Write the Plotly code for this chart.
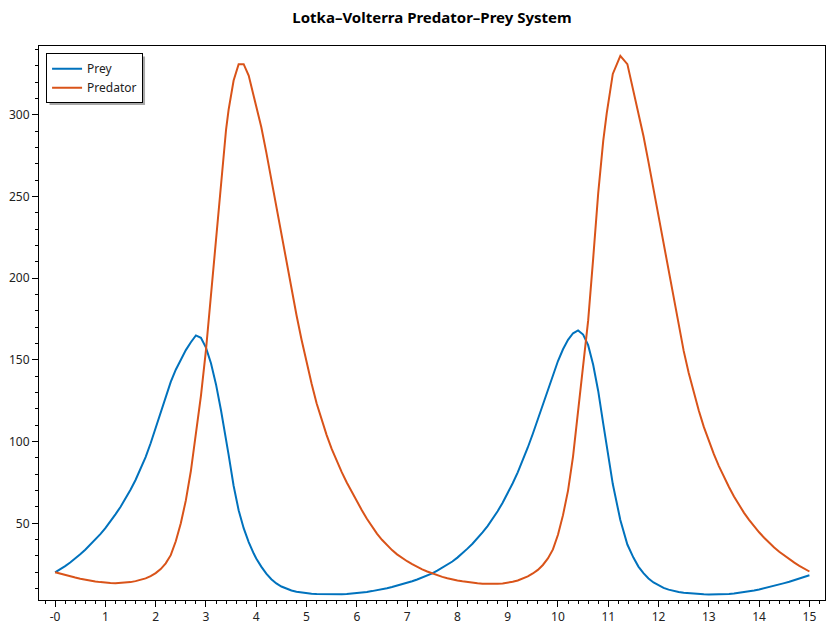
import plotly.graph_objects as go

# time samples (the solver's steps are a bit uneven around the predator peaks)
t = [0.0, 0.1, 0.2, 0.3, 0.4, 0.5, 0.6, 0.7, 0.8, 0.9,
     1.0, 1.1, 1.2, 1.3, 1.4, 1.5, 1.6, 1.7, 1.8, 1.9,
     2.0, 2.1, 2.2, 2.3, 2.4, 2.5, 2.6, 2.7, 2.8, 2.9,
     3.0, 3.1, 3.2, 3.3, 3.4, 3.45, 3.55, 3.65, 3.75, 3.85, 3.95,
     4.0, 4.1, 4.2, 4.3, 4.4, 4.5, 4.6, 4.7, 4.8, 4.9,
     5.0, 5.1, 5.2, 5.3, 5.4, 5.5, 5.6, 5.7, 5.8, 5.9,
     6.0, 6.1, 6.2, 6.3, 6.4, 6.5, 6.6, 6.7, 6.8, 6.9,
     7.0, 7.1, 7.2, 7.3, 7.4, 7.5, 7.6, 7.7, 7.8, 7.9,
     8.0, 8.1, 8.2, 8.3, 8.4, 8.5, 8.6, 8.7, 8.8, 8.9,
     9.0, 9.1, 9.2, 9.3, 9.4, 9.5, 9.6, 9.7, 9.8, 9.9,
     10.0, 10.1, 10.2, 10.3, 10.4, 10.5, 10.6, 10.7, 10.8, 10.9,
     10.97, 11.09, 11.24, 11.38, 11.5,
     11.6, 11.7, 11.8, 11.9,
     12.0, 12.1, 12.2, 12.3, 12.4, 12.5, 12.6, 12.7, 12.8, 12.9,
     13.0, 13.1, 13.2, 13.3, 13.4, 13.5, 13.6, 13.7, 13.8, 13.9,
     14.0, 14.1, 14.2, 14.3, 14.4, 14.5, 14.6, 14.7, 14.8, 14.9,
     15.0]

prey = [20, 21.8, 23.8, 26, 28.4, 31, 33.8, 36.8, 40, 43.4,
        47, 51, 55.5, 60, 65, 70.5, 76.5, 83, 90.5, 99,
        108.5, 118.5, 128, 136.5, 144, 150.5, 156, 160.8, 165, 163.5,
        157.5, 148, 135, 119, 102, 92, 73, 58, 47, 38.5, 31.5,
        28.5, 23.5, 19.2, 15.8, 13.2, 11.3, 9.9, 8.9, 8.1, 7.6,
        7.2, 6.9, 6.7, 6.6, 6.5, 6.5, 6.5, 6.6, 6.8, 7.0,
        7.3, 7.6, 8.0, 8.5, 9.0, 9.6, 10.3, 11.0, 11.8, 12.6,
        13.5, 14.5, 15.6, 16.8, 18.0, 19.4, 21, 22.7, 24.5, 26.6,
        29, 31.6, 34.5, 37.5, 40.8, 44.4, 48.3, 52.6, 57.4, 62.6,
        68.3, 74.5, 81.2, 88.5, 96.4, 104.8, 113.6, 122.7, 132, 141,
        149.3, 156.5, 162.3, 166.3, 168, 165.5, 159, 147, 131, 111,
        97, 74, 52, 37, 29,
        23.5, 19.5, 16.2, 13.8,
        11.9, 10.5, 9.4, 8.6, 8.0, 7.5, 7.2, 6.9, 6.7, 6.6,
        6.5, 6.5, 6.5, 6.6, 6.8, 7.0, 7.4, 7.8, 8.3, 8.9,
        9.5, 10.2, 11.0, 11.8, 12.6, 13.4, 14.2, 15.1, 16.1, 17.1,
        18.2]

predator = [20, 19.1, 18.3, 17.5, 16.8, 16.1, 15.4, 14.9, 14.4, 14.0,
            13.6, 13.4, 13.3, 13.4, 13.6, 14.0, 14.6, 15.4, 16.3, 17.7,
            19.5, 22, 25.5, 30.5, 39, 50, 64, 82, 104, 128,
            156, 190, 226, 262, 291, 303, 321, 331, 331, 324, 312,
            306, 292.5, 277, 260, 243, 226.5, 210, 193.5, 177.5, 162.5,
            148.5, 135.5, 123.5, 113, 104, 95.5, 88, 81.3, 75, 69,
            63.5, 58, 52.8, 48, 43.7, 39.9, 36.6, 33.6, 31, 28.8,
            26.8, 25, 23.3, 21.8, 20.5, 19.3, 18.2, 17.2, 16.4, 15.6,
            15, 14.5, 14, 13.6, 13.3, 13.0, 12.9, 12.9, 13, 13.2,
            13.6, 14.2, 15, 16.1, 17.5, 19.3, 21.5, 24.5, 28.5, 34,
            43, 55, 70, 91, 118, 146, 174, 212, 252, 284,
            301, 325, 336, 331, 315,
            301.5, 287, 271, 254.5,
            238, 221, 204, 187, 170.5, 155.5, 142, 130, 119, 109,
            100, 92.3, 85, 78.3, 72.2, 66.4, 61.2, 56.4, 52.1, 48.1,
            44.5, 41.2, 38.1, 35.2, 32.6, 30.2, 28, 25.9, 24, 22.2,
            20.5]

x_tick_vals = list(range(0, 16))
x_tick_text = ["-0"] + [str(v) for v in range(1, 16)]

FONT = "Noto Sans"

fig = go.Figure()
fig.add_trace(go.Scatter(x=t, y=prey, mode="lines", name="Prey",
                         line=dict(color="#0072BD", width=2)))
fig.add_trace(go.Scatter(x=t, y=predator, mode="lines", name="Predator",
                         line=dict(color="#D95319", width=2)))

axis_common = dict(
    showgrid=False, zeroline=False, automargin=False,
    showline=True, linecolor="black", linewidth=1, mirror=True,
    ticks="outside", ticklen=6, tickwidth=1, tickcolor="black",
    tickfont=dict(family=FONT, size=12, color="#222222"),
)

fig.update_xaxes(range=[-0.32, 15.31], tickmode="array",
                 tickvals=x_tick_vals, ticktext=x_tick_text,
                 minor=dict(tickmode="linear", tick0=0, dtick=0.2,
                            ticks="outside", ticklen=3, tickcolor="black"),
                 **axis_common)
fig.update_yaxes(range=[3.06, 342.1], tickmode="linear", tick0=0, dtick=50,
                 minor=dict(tickmode="linear", tick0=0, dtick=10,
                            ticks="outside", ticklen=3, tickcolor="black"),
                 **axis_common)

# legend shadow: grey box offset a few pixels behind the legend
fig.add_shape(type="rect", xref="paper", yref="paper",
              x0=0.0134, x1=0.1349, y0=0.8935, y1=0.981,
              fillcolor="#a8a8a8", line=dict(width=0), layer="above")

fig.update_layout(
    width=840, height=630,
    margin=dict(l=39, r=15, t=46, b=30),
    paper_bgcolor="white", plot_bgcolor="white",
    title=dict(text="<b>Lotka–Volterra Predator–Prey System</b>",
               x=0.5, xref="paper", y=0.972, yref="container",
               xanchor="center", yanchor="middle",
               font=dict(family=FONT, size=15, color="black")),
    legend=dict(x=0.009, y=0.987, xanchor="left", yanchor="top",
                bgcolor="white", bordercolor="black", borderwidth=1,
                font=dict(family=FONT, size=12, color="#222222"),
                itemwidth=30, tracegroupgap=2),
    showlegend=True,
)

# the page's default body margin would push the chart 8px off the window
fig.write_html("out.html", config={"displayModeBar": False},
               post_script="document.body.style.margin='0';")
